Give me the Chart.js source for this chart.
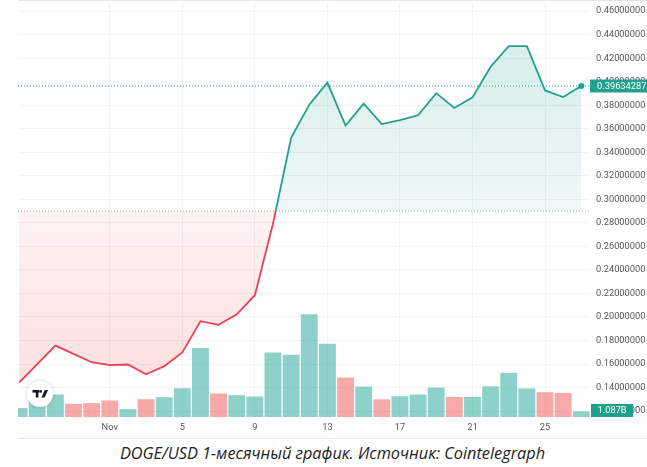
<!DOCTYPE html>
<html>
<head>
<meta charset="utf-8">
<script src="https://cdn.jsdelivr.net/npm/chart.js@4.4.1/dist/chart.umd.min.js"></script>
<style>
  html, body { margin: 0; padding: 0; background: #fff; }
  #wrap { position: relative; width: 647px; height: 467px; }
  #chart { display: block; }
  .caption {
    position: absolute; left: 18px; top: 442px; width: 629px; height: 25px;
    text-align: center; line-height: 25px;
    font: italic 16.3px 'Open Sans', sans-serif; color: #222;
  }
</style>
</head>
<body>
<div id="wrap">
  <canvas id="chart" width="647" height="440"></canvas>
  <div class="caption">DOGE/USD 1-месячный график. Источник: Cointelegraph</div>
</div>
<script>
// ── Data (daily, Oct 27 → Nov 27) ────────────────────────────────────────────
const DAYS = ['Oct 27', 'Oct 28', 'Oct 29', 'Oct 30', 'Oct 31',
  'Nov 1', 'Nov 2', 'Nov 3', 'Nov 4', 'Nov 5', 'Nov 6', 'Nov 7', 'Nov 8', 'Nov 9', 'Nov 10',
  'Nov 11', 'Nov 12', 'Nov 13', 'Nov 14', 'Nov 15', 'Nov 16', 'Nov 17', 'Nov 18', 'Nov 19',
  'Nov 20', 'Nov 21', 'Nov 22', 'Nov 23', 'Nov 24', 'Nov 25', 'Nov 26', 'Nov 27'];

const CLOSE = [0.1442, 0.1599, 0.1756, 0.1686, 0.1615,
  0.1590, 0.1596, 0.1512, 0.1582, 0.1699, 0.1964, 0.1933, 0.2023, 0.2185, 0.2792,
  0.3524, 0.3805, 0.3993, 0.3628, 0.3813, 0.3640, 0.3673, 0.3715, 0.3903,
  0.3777, 0.3867, 0.4128, 0.4302, 0.4302, 0.3926, 0.3870, 0.39634287];

// volume in billions
const VOLUME = [1.72, 3.4, 4.33, 2.54, 2.67,
  3.18, 1.53, 3.43, 3.81, 5.53, 13.3, 4.52, 4.2, 3.95, 12.4,
  12.0, 19.8, 14.1, 7.6, 5.85, 3.4, 4.0, 4.33, 5.66,
  3.87, 3.87, 5.9, 8.5, 5.5, 4.77, 4.63, 1.087];

const BASELINE = 0.29;
const PRICE_TICKS = [0.12, 0.14, 0.16, 0.18, 0.20, 0.22, 0.24, 0.26, 0.28, 0.30,
  0.32, 0.34, 0.36, 0.38, 0.40, 0.42, 0.44, 0.46];
const X_TICK_DAYS = ['Nov 1', 'Nov 5', 'Nov 9', 'Nov 13', 'Nov 17', 'Nov 21', 'Nov 25'];
const X_TICK_LABELS = ['Nov', '5', '9', '13', '17', '21', '25'];

// ── Look ─────────────────────────────────────────────────────────────────────
const GREEN = '#22a08d';
const RED = '#eb4152';
const UP_VOL = 'rgba(38,166,154,0.52)';
const DOWN_VOL = 'rgba(239,83,80,0.5)';
const GRID = '#f0f2f6';
const TEXT = '#55585f';
const TICK_FONT = { family: 'Roboto', size: 9.3 };

const LAST = CLOSE.length - 1;
const X_MIN = -0.06, X_MAX = 31.48;

// vertical split at the baseline: stops above in one colour, below in the other
function splitGradient(chart, topStops, bottomStops) {
  const { ctx, chartArea, scales } = chart;
  if (!chartArea || !scales.y) return 'transparent';
  const yb = scales.y.getPixelForValue(BASELINE);
  const s = Math.min(1, Math.max(0, (yb - chartArea.top) / (chartArea.bottom - chartArea.top)));
  const g = ctx.createLinearGradient(0, chartArea.top, 0, chartArea.bottom);
  g.addColorStop(0, topStops[0]);
  g.addColorStop(s, topStops[1]);
  g.addColorStop(s, bottomStops[0]);
  g.addColorStop(1, bottomStops[1]);
  return g;
}

const pts = arr => arr.map((v, i) => ({ x: i, y: v }));

// no label-overflow padding: the plot runs edge to edge like the TV pane
function noPad(s) {
  s.paddingTop = 0; s.paddingBottom = 0; s.paddingLeft = 0; s.paddingRight = 0;
}

// ── Right-axis value badges + TV logo ────────────────────────────────────────
const overlay = {
  id: 'overlay',
  afterDraw(chart) {
    const { ctx, chartArea, scales } = chart;
    const w = chart.width;
    ctx.save();

    // frame lines
    ctx.strokeStyle = '#e3e5ea';
    ctx.lineWidth = 1;
    ctx.beginPath();
    ctx.moveTo(chartArea.left, 0.5); ctx.lineTo(w, 0.5);
    ctx.moveTo(chartArea.left, 438.5); ctx.lineTo(w, 438.5);
    ctx.stroke();

    ctx.font = '9.3px Roboto';
    ctx.textBaseline = 'middle';

    // last price badge
    const yp = scales.y.getPixelForValue(CLOSE[LAST]);
    ctx.fillStyle = GREEN;
    ctx.fillRect(chartArea.right, Math.round(yp) - 6.5, w - chartArea.right, 13);
    ctx.fillStyle = '#fff';
    ctx.fillText(CLOSE[LAST].toFixed(8), chartArea.right + 7, yp + 0.5);

    // last volume badge
    const yv = scales.yv.getPixelForValue(VOLUME[LAST]);
    const label = VOLUME[LAST].toFixed(3) + 'B';
    const tw = ctx.measureText(label).width;
    ctx.fillStyle = '#1fa08a';
    ctx.fillRect(chartArea.right + 1, Math.round(yv) - 7, tw + 13, 13);
    ctx.fillStyle = '#fff';
    ctx.fillText(label, chartArea.right + 7.5, yv - 0.5);

    // TradingView logo
    const cx = 40, cy = 394;
    ctx.shadowColor = 'rgba(0,0,0,0.18)';
    ctx.shadowBlur = 4;
    ctx.fillStyle = '#fff';
    ctx.beginPath(); ctx.arc(cx, cy, 13, 0, Math.PI * 2); ctx.fill();
    ctx.shadowColor = 'transparent';
    ctx.fillStyle = '#131722';
    ctx.fillRect(cx - 7.5, cy - 4, 6.5, 2.6);
    ctx.fillRect(cx - 4.2, cy - 4, 2.6, 7.5);
    ctx.beginPath(); ctx.arc(cx + 0.6, cy - 2.6, 1.4, 0, Math.PI * 2); ctx.fill();
    ctx.beginPath();
    ctx.moveTo(cx + 1.6, cy + 3.5);
    ctx.lineTo(cx + 4.8, cy - 4);
    ctx.lineTo(cx + 8, cy - 4);
    ctx.lineTo(cx + 4.6, cy + 3.5);
    ctx.closePath(); ctx.fill();

    ctx.restore();
  }
};

Chart.defaults.font.family = 'Roboto';

new Chart(document.getElementById('chart'), {
  data: {
    datasets: [
      {
        type: 'line',
        data: pts(CLOSE),
        yAxisID: 'y',
        borderWidth: 1.8,
        tension: 0,
        borderColor: c => splitGradient(c.chart, [GREEN, GREEN], [RED, RED]),
        backgroundColor: c => splitGradient(c.chart,
          ['rgba(38,166,154,0.21)', 'rgba(38,166,154,0.075)'],
          ['rgba(239,83,80,0.07)', 'rgba(239,83,80,0.2)']),
        fill: { value: BASELINE },
        pointRadius: c => (c.dataIndex === LAST ? 3 : 0),
        pointBackgroundColor: GREEN,
        pointBorderWidth: 0,
        order: 1,
      },
      {
        type: 'line',
        data: [{ x: X_MIN, y: BASELINE }, { x: X_MAX, y: BASELINE }],
        yAxisID: 'y',
        borderColor: '#a3a6ad',
        borderWidth: 1,
        borderDash: [1, 2],
        pointRadius: 0,
        fill: false,
        order: 0,
      },
      {
        type: 'line',
        data: [{ x: X_MIN, y: CLOSE[LAST] }, { x: X_MAX, y: CLOSE[LAST] }],
        yAxisID: 'y',
        borderColor: GREEN,
        borderWidth: 1,
        borderDash: [1, 2],
        pointRadius: 0,
        fill: false,
        order: 0,
      },
      {
        type: 'bar',
        data: pts(VOLUME),
        yAxisID: 'yv',
        backgroundColor: VOLUME.map((v, i) => (i === 0 || CLOSE[i] >= CLOSE[i - 1] ? UP_VOL : DOWN_VOL)),
        borderWidth: 0,
        categoryPercentage: 1,
        barPercentage: 0.93,
        order: 2,
      },
    ],
  },
  options: {
    responsive: false,
    animation: false,
    layout: { padding: { left: 18, top: 0, right: 0, bottom: 0 } },
    plugins: { legend: { display: false }, tooltip: { enabled: false } },
    scales: {
      x: {
        type: 'linear',
        offset: false,
        min: X_MIN,
        max: X_MAX,
        afterBuildTicks: s => { s.ticks = X_TICK_DAYS.map(d => ({ value: DAYS.indexOf(d) })); },
        afterFit: s => { s.height = 23; noPad(s); },
        ticks: {
          autoSkip: false, maxRotation: 0, padding: 5,
          color: TEXT, font: TICK_FONT,
          callback: (v, i) => X_TICK_LABELS[i],
        },
        grid: { color: GRID, drawTicks: false, offset: false },
        border: { display: false },
      },
      y: {
        position: 'right',
        min: 0.11495,
        max: 0.4661,
        afterBuildTicks: s => { s.ticks = PRICE_TICKS.map(v => ({ value: v })); },
        afterFit: s => { s.width = 57; noPad(s); },
        ticks: {
          padding: 6, color: TEXT, font: TICK_FONT,
          callback: v => v.toFixed(8),
        },
        grid: { color: GRID, drawTicks: false },
        border: { display: false },
      },
      yv: { display: false, min: 0, max: 79.5 },
    },
  },
  plugins: [overlay],
});
</script>
</body>
</html>
